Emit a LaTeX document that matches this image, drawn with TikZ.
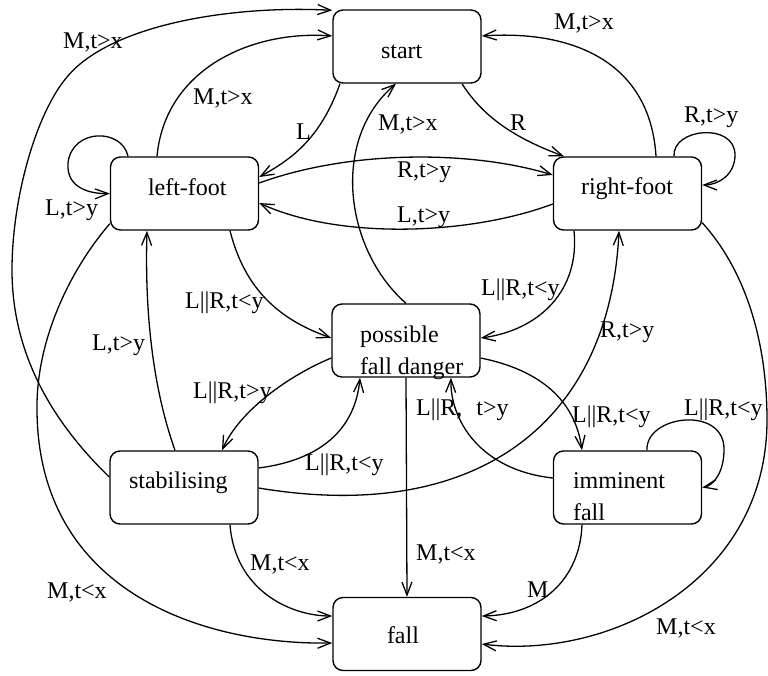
\documentclass[tikz,border=0pt]{standalone}
\usepackage{fontspec}
\setmainfont{Liberation Serif}
\usetikzlibrary{arrows.meta}
\newcommand{\placetext}[3]{\makebox[0pt][l]{\hspace*{#1}\raisebox{#2}[0pt][0pt]{#3}}}
\begin{document}
\begin{tikzpicture}[x=1pt,y=-1pt,
  state/.style={draw, line width=1.4pt, rounded corners=10pt, minimum width=148pt,
    minimum height=73pt, inner sep=0pt, font=\fontsize{24}{30}\selectfont},
  lbl/.style={anchor=base west, inner sep=0pt, font=\fontsize{24}{30}\selectfont},
  tr/.style={line width=1.3pt, -{Straight Barb[length=13pt,width=10pt]}}]
\useasboundingbox (0,0) rectangle (768,675);
% states
\node[state] (start) at (407,46.5) {\placetext{-26pt}{-11.5pt}{start}};
\node[state] (lf) at (184.5,193.5) {\placetext{-36.5pt}{-1.5pt}{left-foot}};
\node[state] (rf) at (627.5,193.5) {\placetext{-46.5pt}{-0.5pt}{right-foot}};
\node[state] (pfd) at (406,340.5) {\placetext{-46pt}{-1.5pt}{\begin{tabular}[t]{@{}l@{}}possible\\[2pt]fall danger\end{tabular}}};
\node[state] (stab) at (184,487.5) {\placetext{-55pt}{-0.5pt}{stabilising}};
\node[state] (imm) at (627.5,487.5) {\placetext{-54.5pt}{-0.5pt}{\begin{tabular}[t]{@{}l@{}}imminent\\[2pt]fall\end{tabular}}};
\node[state] (fall) at (407,634) {\placetext{-20pt}{-9pt}{fall}};
% transitions
\draw[tr] ([yshift=10.5pt]stab.west) .. controls (40,410) and (12,340) .. (12,270)
  .. controls (12,200) and (35,115) .. (67,77)
  .. controls (110,25) and (230,5) .. ([yshift=-1pt]start.north west);
\draw[tr] ([xshift=-27.5pt]lf.north) .. controls (165,70) and (250,30) .. ([yshift=10.5pt]start.west);
\draw[tr] ([xshift=-67pt]start.south) .. controls (320,140) and (290,160) .. ([yshift=16.5pt]lf.east);
\draw[tr] ([xshift=55pt]start.south) .. controls (485,120) and (520,140) .. ([xshift=-63.5pt]rf.north);
\draw[tr] ([xshift=28.5pt]rf.north) .. controls (650,60) and (570,30) .. ([yshift=10.5pt]start.east);
\draw[tr] ([xshift=46.5pt]rf.north) .. controls (672,128) and (735,122) .. (735,155)
  .. controls (735,175) and (718,185) .. ([yshift=8.5pt]rf.east);
\draw[tr] ([xshift=-56.5pt]lf.north) .. controls (122,128) and (72,128) .. (68,163)
  .. controls (66,188) and (90,194) .. (lf.west);
\draw[tr] ([yshift=10.5pt]lf.east) .. controls (350,150) and (470,150) .. ([yshift=18.5pt]rf.west);
\draw[tr] ([yshift=-10.5pt]rf.west) .. controls (470,235) and (340,240) .. ([yshift=-9.5pt]lf.east);
\draw[tr] (pfd.north) .. controls (345,250) and (330,140) .. ([xshift=-11pt]start.south);
\draw[tr] ([xshift=45.5pt]lf.south) .. controls (245,290) and (280,320) .. ([yshift=2.5pt]pfd.west);
\draw[tr] ([xshift=-53.5pt]rf.south) .. controls (580,290) and (540,330) .. ([yshift=2.5pt]pfd.east);
\draw[tr] ([yshift=8pt]rf.south east) .. controls (745,270) and (767,340) .. (767,420)
  .. controls (767,580) and (610,660) .. ([yshift=-10pt]fall.east);
\draw[tr] ([xshift=-9pt]stab.north) .. controls (150,380) and (145,300) .. ([xshift=-37.5pt]lf.south);
\draw[tr] ([yshift=-17.5pt]pfd.west) .. controls (290,375) and (240,410) .. ([xshift=38pt]stab.north);
\draw[tr] ([yshift=19.5pt]stab.east) .. controls (320,460) and (355,430) .. ([xshift=-46pt]pfd.south);
\draw[tr] ([yshift=-0.5pt]stab.east) .. controls (480,525) and (610,420) .. ([xshift=-8.5pt]rf.south);
\draw[tr] ([yshift=-17.5pt]pfd.east) .. controls (540,370) and (575,400) .. ([xshift=-45.5pt]imm.north);
\draw[tr] ([yshift=9.5pt]imm.west) .. controls (480,470) and (450,420) .. ([xshift=45pt]pfd.south);
\draw[tr] ([xshift=19.5pt]imm.north) .. controls (645,415) and (725,405) .. (724,450)
  .. controls (724,470) and (715,485) .. (imm.east);
\draw[tr] ([xshift=-45.5pt]imm.south) .. controls (580,580) and (540,615) .. ([yshift=18pt]fall.east);
\draw[tr] (pfd.south) -- (fall.north);
\draw[tr] ([xshift=46pt]stab.south) .. controls (235,590) and (290,616) .. ([yshift=18pt]fall.west);
\draw[tr] ([yshift=7pt]lf.south west) .. controls (70,270) and (36,340) .. (37,410)
  .. controls (38,590) and (200,645) .. ([yshift=-9pt]fall.west);
% labels
\node[lbl] (l1) at (63,48) {M,t>x};
\node[lbl] (l2) at (193,104) {M,t>x};
\node[lbl] (l3) at (296,139) {L};
\node[lbl] (l4) at (378,130) {M,t>x};
\node[lbl] (l5) at (510,130) {R};
\node[lbl] (l6) at (554,29) {M,t>x};
\node[lbl] (l7) at (684,122) {R,t>y};
\node[lbl] (l8) at (45,215) {L,t>y};
\node[lbl] (l9) at (397,177) {R,t>y};
\node[lbl] (l10) at (397,222) {L,t>y};
\node[lbl] (l11) at (185,308) {L||R,t<y};
\node[lbl] (l12) at (481,295) {L||R,t<y};
\node[lbl] (l13) at (92,350) {L,t>y};
\node[lbl] (l14) at (600,337) {R,t>y};
\node[lbl] (l15) at (193,398) {L||R,t>y};
\node[lbl] (l16) at (305,470) {L||R,t<y};
\node[lbl] (l17) at (572,422) {L||R,t<y};
\node[lbl] (l18) at (416,415) {L||R,\hspace{14pt}t>y};
\node[lbl] (l19) at (684,415) {L||R,t<y};
\node[lbl] (l20) at (527,597) {M};
\node[lbl] (l21) at (416,560) {M,t<x};
\node[lbl] (l22) at (250,570) {M,t<x};
\node[lbl] (l23) at (47,598) {M,t<x};
\node[lbl] (l24) at (656,634) {M,t<x};
\end{tikzpicture}
\end{document}
